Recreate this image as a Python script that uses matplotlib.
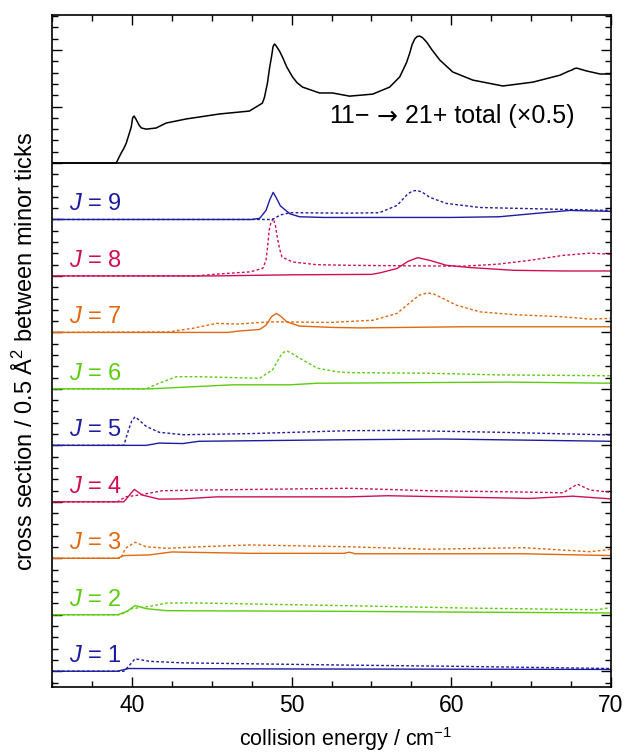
import numpy as np
import matplotlib
matplotlib.use("Agg")
import matplotlib.pyplot as plt
from matplotlib.ticker import MultipleLocator

plt.rcParams['font.family'] = ['Liberation Sans', 'DejaVu Sans']
plt.rcParams['mathtext.fontset'] = 'custom'
plt.rcParams['mathtext.rm'] = 'Liberation Sans'
plt.rcParams['mathtext.it'] = 'Liberation Sans:italic'

# total cross section (plotted x0.5)
e_tot = [35, 39.02, 39.33, 39.5, 39.65, 39.96, 40.05, 40.14, 40.25, 40.45, 40.6, 40.9, 41.52,
         42.15, 43.4, 45.48, 47.36, 48.17, 48.3, 48.49, 48.62, 48.74, 48.84, 48.93, 49.02,
         49.25, 49.43, 49.7, 50.06, 50.35, 50.69, 51.75, 52.57, 53.63, 55.08, 56.14, 56.77,
         57.2, 57.4, 57.55, 57.71, 57.86, 58.02, 58.2, 58.46, 58.8, 59.28, 60.09, 61.35,
         63.23, 65.11, 66.81, 67.3, 67.56, 67.7, 67.87, 68.1, 68.5, 69.32, 70]
s_tot = [0, 0, 0.88, 1.3, 1.76, 3.18, 4.0, 4.16, 3.9, 3.36, 3.1, 3.0, 3.1,
         3.54, 3.9, 4.34, 4.6, 5.3, 5.8, 7.08, 8.4, 9.38, 10.3, 10.54, 10.4,
         9.9, 9.38, 8.5, 7.62, 7.1, 6.72, 6.2, 6.2, 5.92, 6.1, 6.72, 7.62,
         8.9, 9.74, 10.5, 10.98, 11.2, 11.24, 11.1, 10.7, 10.0, 9.12, 8.06, 7.34,
         6.82, 7.16, 7.78, 8.1, 8.24, 8.36, 8.4, 8.3, 8.14, 7.88, 7.88]

# per J: solid (a) and dotted (b) curves
e9a = [35, 47.5, 48.0, 48.4, 48.65, 48.85, 49.05, 49.3, 49.9, 50.5, 52, 60, 63, 65, 67.4, 70]
s9a = [0, 0, 0.05, 0.4, 0.9, 1.2, 0.95, 0.6, 0.25, 0.12, 0.09, 0.09, 0.12, 0.25, 0.4, 0.36]
e9b = [35, 48.8, 49.3, 49.9, 53.6, 55.5, 56.6, 57.3, 57.6, 57.85, 58.2, 58.65, 59.7, 61.8,
       64.9, 67.4, 70]
s9b = [0, 0, 0.2, 0.3, 0.28, 0.3, 0.62, 1.15, 1.26, 1.29, 1.2, 0.98, 0.71, 0.53,
       0.48, 0.44, 0.4]

e8a = [35, 45, 50, 55.0, 55.5, 56.6, 57.3, 57.9, 58.65, 59.7, 61.2, 63.9, 67, 70]
s8a = [0, 0, 0.05, 0.07, 0.13, 0.33, 0.65, 0.81, 0.69, 0.47, 0.37, 0.25, 0.22, 0.22]
e8b = [35, 44, 45.3, 47.4, 48.2, 48.4, 48.5, 48.6, 48.7, 48.85, 49.0, 49.1, 49.25, 49.4,
       50.05, 51.55, 53.6, 60.7, 62.9, 64.9, 67.0, 68.7, 70]
s8b = [0, 0, 0.08, 0.18, 0.34, 0.7, 1.3, 2.02, 2.35, 2.55, 2.2, 1.73, 1.2, 0.84,
       0.62, 0.5, 0.47, 0.43, 0.52, 0.69, 0.91, 1.01, 0.96]

e7a = [35, 46.0, 46.7, 48.0, 48.4, 48.75, 49.05, 49.35, 49.7, 50.5, 52.6, 54.3, 60.7, 70]
s7a = [0, 0, 0.06, 0.13, 0.32, 0.7, 0.84, 0.7, 0.47, 0.28, 0.22, 0.2, 0.25, 0.25]
e7b = [35, 42.3, 43.8, 45.3, 46.7, 48.0, 49.05, 52.4, 55.1, 56.6, 57.6, 58.0, 58.5, 58.9,
       59.3, 60.3, 61.8, 63.9, 67.0, 68.7, 70]
s7b = [0, 0.02, 0.18, 0.4, 0.37, 0.44, 0.47, 0.44, 0.54, 0.84, 1.43, 1.65, 1.75, 1.7,
       1.57, 1.21, 0.91, 0.79, 0.69, 0.59, 0.62]

e6a = [35, 41.1, 46.3, 49.9, 51.6, 63.7, 70]
s6a = [0, 0, 0.18, 0.18, 0.25, 0.3, 0.25]
e6b = [35, 40.9, 41.7, 42.8, 44.2, 48.0, 48.8, 49.3, 49.5, 49.7, 49.95, 50.5, 51.6, 52.8,
       53.6, 58.7, 62.9, 70]
s6b = [0, 0, 0.25, 0.54, 0.54, 0.47, 0.84, 1.45, 1.62, 1.68, 1.6, 1.36, 0.92, 0.76,
       0.72, 0.69, 0.62, 0.58]

e5a = [35, 40.9, 41.7, 43.2, 44.2, 53.6, 59.5, 70]
s5a = [0, 0, 0.1, 0.08, 0.18, 0.25, 0.28, 0.18]
e5b = [35, 39.5, 39.8, 40.0, 40.2, 40.4, 40.9, 41.7, 43.2, 47.4, 53.6, 56.6, 62.9, 70]
s5b = [0, 0, 0.7, 1.1, 1.26, 1.15, 0.84, 0.58, 0.47, 0.52, 0.65, 0.66, 0.58, 0.46]

e4a = [35, 39.5, 40.15, 40.65, 41.7, 43.2, 45.3, 53.6, 56.0, 64.9, 67.6, 70]
s4a = [0, 0, 0.55, 0.3, 0.12, 0.13, 0.22, 0.22, 0.27, 0.15, 0.25, 0.13]
e4b = [35, 39.1, 39.6, 40.45, 41.9, 44.2, 53.6, 58.65, 63.9, 67.0, 67.9, 68.7, 70]
s4b = [0, 0, 0.22, 0.3, 0.49, 0.52, 0.6, 0.49, 0.44, 0.4, 0.78, 0.52, 0.42]

e3a = [35, 39.1, 39.5, 41.1, 42.5, 47.4, 53.3, 53.6, 54.0, 64.5, 70]
s3a = [0, 0, 0.12, 0.15, 0.28, 0.22, 0.22, 0.27, 0.2, 0.2, 0.12]
e3b = [35, 39.3, 39.6, 40.2, 40.9, 42.2, 44.2, 47.4, 53.6, 58.65, 64.5, 68.7, 70]
s3b = [0, 0, 0.44, 0.71, 0.51, 0.44, 0.51, 0.59, 0.51, 0.4, 0.47, 0.29, 0.4]

e2a = [35, 39.1, 39.7, 40.2, 40.9, 42.2, 53.6, 60, 70]
s2a = [0, 0, 0.15, 0.41, 0.27, 0.18, 0.15, 0.12, 0.08]
e2b = [35, 39.3, 40.0, 41.1, 42.2, 44.2, 53.6, 60.7, 69.1, 70]
s2b = [0, 0, 0.27, 0.37, 0.52, 0.52, 0.4, 0.3, 0.22, 0.32]

e1a = [35, 39.1, 39.8, 50, 70]
s1a = [0, 0, 0.12, 0.1, 0.08]
e1b = [35, 39.5, 39.8, 40.2, 41.1, 43.2, 53.6, 60, 70]
s1b = [0, 0, 0.22, 0.55, 0.44, 0.37, 0.27, 0.22, 0.12]

J_list = [1, 2, 3, 4, 5, 6, 7, 8, 9]
curves = {1: (e1a, s1a, e1b, s1b), 2: (e2a, s2a, e2b, s2b), 3: (e3a, s3a, e3b, s3b),
          4: (e4a, s4a, e4b, s4b), 5: (e5a, s5a, e5b, s5b), 6: (e6a, s6a, e6b, s6b),
          7: (e7a, s7a, e7b, s7b), 8: (e8a, s8a, e8b, s8b), 9: (e9a, s9a, e9b, s9b)}

cols = ['#1c1ca0', '#5ccc10', '#e0680f', '#d0104e']  # blue, green, orange, crimson
step = 2.5

fig = plt.figure(figsize=(6.25, 7.53), dpi=100)
ax = fig.add_axes([0.0832, 0.0876, 0.8944, 0.8924])

for J in J_list:
    ea, sa, eb, sb = curves[J]
    off = step * (J - 1)
    c = cols[(J - 1) % 4]
    ax.plot(eb, np.array(sb) + off, color=c, lw=1.0, ls=(0, (2, 1.6)))
    ax.plot(ea, np.array(sa) + off, color=c, lw=1.0)
    ax.text(36.05, off + 0.4, r'$J$ = %d' % J, color=c, fontsize=17, ha='left', va='baseline')

top0 = step * 9
ax.axhline(top0, color='black', lw=1.2)
ax.plot(e_tot, 0.5 * np.array(s_tot) + top0, color='black', lw=1.1)
# label in three pieces so the arrow is the long DejaVu one
ax.text(54.9, top0 + 1.75, '11−', fontsize=18, ha='right', va='baseline')
ax.text(56.0, top0 + 1.75, '→', fontsize=18, ha='center', va='baseline', family='DejaVu Sans')
ax.text(57.1, top0 + 1.75, '21+ total (×0.5)', fontsize=18, ha='left', va='baseline')

ax.set_xlim(35, 70)
ax.set_ylim(-0.7, 29.05)
ax.xaxis.set_major_locator(MultipleLocator(10))
ax.xaxis.set_minor_locator(MultipleLocator(2.5))
ax.yaxis.set_major_locator(MultipleLocator(2.5))
ax.yaxis.set_minor_locator(MultipleLocator(0.5))
ax.tick_params(which='both', direction='in', top=True, right=True, width=1.0, labelsize=16.5)
ax.tick_params(which='major', length=7)
ax.tick_params(which='minor', length=4)
ax.tick_params(axis='y', labelleft=False)
ax.tick_params(axis='x', pad=5)
for sp in ax.spines.values():
    sp.set_linewidth(1.2)

ax.set_xlabel('collision energy / cm$^{-1}$', fontsize=15.5)
ax.xaxis.set_label_coords(0.525, -0.056)
ax.set_ylabel('cross section / 0.5 Å$^2$ between minor ticks', fontsize=17, labelpad=7)

fig.savefig('out.png', dpi=100)
